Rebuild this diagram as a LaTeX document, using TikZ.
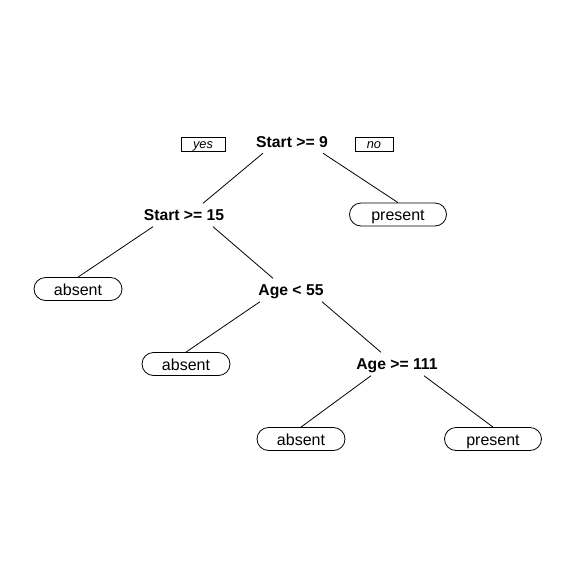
\documentclass[tikz,border=0pt]{standalone}
\usepackage{fontspec}
\setmainfont{Liberation Sans}
\usetikzlibrary{shapes.misc,shadows}
\begin{document}
\begin{tikzpicture}[x=1pt,y=-1pt,
  split/.style={font=\fontsize{15.7}{18}\selectfont\bfseries, inner sep=0pt, text height=11.2pt, text depth=0pt, minimum height=23pt},
  leaf/.style={draw, rounded rectangle, line width=0.8pt, font=\fontsize{16}{19}\selectfont, text height=12pt, text depth=0pt, minimum height=23pt, inner sep=0pt},
  yesno/.style={draw, line width=0.7pt, fill=white, font=\fontsize{12.8}{15}\selectfont\itshape, text height=8pt, text depth=0pt, minimum height=14pt, inner sep=0pt,
    drop shadow={shadow xshift=0.8pt, shadow yshift=-0.8pt, fill=gray, opacity=0.8}},
  branch/.style={line width=0.8pt}]
\useasboundingbox (0,0) rectangle (575,582);
% split nodes
\node[split] (s9)   at (292,141.5) {Start >= 9};
\node[split] (s15)  at (184,215)   {Start >= 15};
\node[split] (a55)  at (291,290)   {Age < 55};
\node[split] (a111) at (397,364)   {Age >= 111};
% leaves
\node[leaf, minimum width=97pt] (p1) at (398,214.5) {present};
\node[leaf, minimum width=88pt] (a1) at (78,289)    {absent};
\node[leaf, minimum width=88pt] (a2) at (186,364)   {absent};
\node[leaf, minimum width=88pt] (a3) at (301,439)   {absent};
\node[leaf, minimum width=97pt] (p2) at (493,439)   {present};
% yes / no
\node[yesno, minimum width=44pt] (yes) at (203,144) {yes};
\node[yesno, minimum width=38pt] (no)  at (374,144) {no};
% branches
\draw[branch] ([xshift=-29pt]s9.south) -- ([xshift=19pt]s15.north);
\draw[branch] ([xshift=31pt]s9.south) -- (p1.north);
\draw[branch] ([xshift=-31pt]s15.south) -- (a1.north);
\draw[branch] ([xshift=29pt]s15.south) -- ([xshift=-18pt]a55.north);
\draw[branch] ([xshift=-31pt]a55.south) -- (a2.north);
\draw[branch] ([xshift=31pt]a55.south) -- ([xshift=-16pt]a111.north);
\draw[branch] ([xshift=-26pt]a111.south) -- (a3.north);
\draw[branch] ([xshift=27pt]a111.south) -- (p2.north);
\end{tikzpicture}
\end{document}
